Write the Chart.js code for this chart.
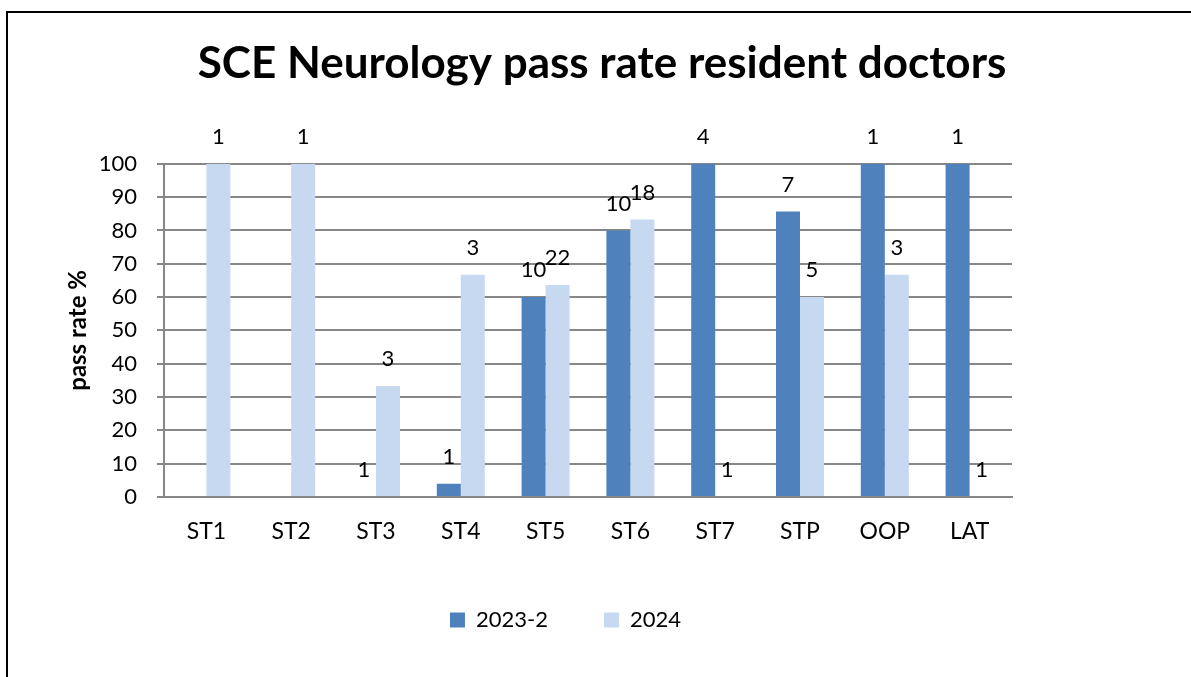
<!DOCTYPE html>
<html>
<head>
<meta charset="utf-8">
<script src="https://cdn.jsdelivr.net/npm/chart.js@4"></script>
<style>
  html, body { margin: 0; padding: 0; background: #fff; overflow: hidden; }
  #frame { position: absolute; left: 6px; top: 11px; width: 1300px; height: 800px;
           border-top: 2px solid #000; border-left: 2px solid #000; }
  #wrap { position: absolute; left: 0; top: 0; width: 1191px; height: 677px; }
</style>
</head>
<body>
<div id="frame"></div>
<div id="wrap"><canvas id="sce"></canvas></div>
<script>
// SCE Neurologie: Bestehensquote je Ausbildungsjahr, Zahlen über den Balken = Anzahl Kandidaten
const categories = ['ST1', 'ST2', 'ST3', 'ST4', 'ST5', 'ST6', 'ST7', 'STP', 'OOP', 'LAT'];
const rate2023 = [null, null, 0, 4, 60, 80, 100, 85.7, 100, 100];
const rate2024 = [100, 100, 33.3, 66.7, 63.6, 83.3, 0, 60, 66.7, 0];
const count2023 = [null, null, 1, 1, 10, 10, 4, 7, 1, 1];
const count2024 = [1, 1, 3, 3, 22, 18, 1, 5, 3, 1];
const yTicks = [0, 10, 20, 30, 40, 50, 60, 70, 80, 90, 100];

const FONT = 'Lato';

// Anzahl über jeden Balken schreiben
const countLabels = {
  id: 'countLabels',
  afterDatasetsDraw(chart) {
    const ctx = chart.ctx;
    const counts = [count2023, count2024];
    ctx.save();
    ctx.font = '22px ' + FONT;
    ctx.fillStyle = '#000';
    ctx.textAlign = 'center';
    ctx.textBaseline = 'bottom';
    chart.data.datasets.forEach((ds, i) => {
      chart.getDatasetMeta(i).data.forEach((bar, j) => {
        const n = counts[i][j];
        if (n == null || ds.data[j] == null) return;
        ctx.fillText(String(n), bar.x, bar.y - 16);
      });
    });
    ctx.restore();
  }
};

new Chart(document.getElementById('sce'), {
  type: 'bar',
  data: {
    labels: categories,
    datasets: [
      { label: '2023-2', data: rate2023, backgroundColor: '#4F81BD' },
      { label: '2024', data: rate2024, backgroundColor: '#C6D9F1' }
    ]
  },
  options: {
    responsive: true,
    maintainAspectRatio: false,
    animation: false,
    datasets: { bar: { categoryPercentage: 0.566, barPercentage: 1.0 } },
    layout: { padding: { left: 13, right: 0, top: 37, bottom: 36 } },
    plugins: {
      title: {
        display: true,
        text: 'SCE Neurology pass rate resident doctors',
        color: '#000',
        font: { family: FONT, size: 44, weight: 'bold' },
        padding: { top: 0, bottom: 74 }
      },
      legend: {
        position: 'bottom',
        fullSize: false,
        labels: {
          color: '#000',
          font: { family: FONT, size: 22 },
          boxWidth: 15,
          boxHeight: 15,
          padding: 56,
          // Legende etwas nach links rücken wie im Original
          generateLabels(chart) {
            const items = Chart.defaults.plugins.legend.labels.generateLabels(chart);
            items[items.length - 1].text += ' '.repeat(8);
            return items;
          }
        }
      },
      tooltip: { enabled: false }
    },
    scales: {
      x: {
        grid: { display: false, drawTicks: false },
        border: { display: true, color: '#878787', width: 2 },
        ticks: { color: '#000', font: { family: FONT, size: 23 }, padding: 21 },
        afterFit(scale) { scale.height = 56; }
      },
      y: {
        min: 0,
        max: 100,
        afterBuildTicks(scale) { scale.ticks = yTicks.map(v => ({ value: v })); },
        grid: { color: '#878787', lineWidth: 2, tickLength: 7 },
        border: { display: true, color: '#878787', width: 2 },
        ticks: { color: '#000', font: { family: FONT, size: 22 }, padding: 20 },
        title: {
          display: true,
          text: 'pass rate %',
          color: '#000',
          font: { family: FONT, size: 24, weight: 'bold' },
          padding: { top: 51, bottom: 0 }
        },
        afterFit(scale) { scale.width = 151; }
      },
      yRight: {
        position: 'right',
        min: 0,
        max: 100,
        grid: { display: false, drawTicks: false },
        border: { display: false },
        ticks: { display: false },
        afterFit(scale) { scale.width = 179; }
      }
    }
  },
  plugins: [countLabels]
});
</script>
</body>
</html>
